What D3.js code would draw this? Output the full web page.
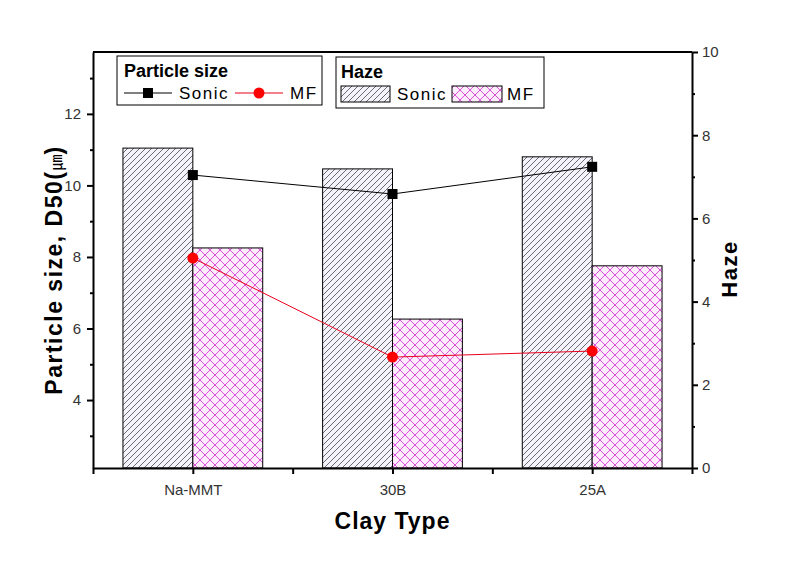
<!DOCTYPE html>
<html>
<head>
<meta charset="utf-8">
<script src="https://cdn.jsdelivr.net/npm/d3@7"></script>
<style>
  body { margin: 0; background: #fff; }
  text { font-family: Arial, "Liberation Sans", sans-serif; }
</style>
</head>
<body>
<div id="chart"></div>
<script>
const categories = ["Na-MMT", "30B", "25A"];
const sizeSonic = [10.29, 9.76, 10.52];
const sizeMF = [7.97, 5.2, 5.37];
const hazeSonic = [7.69, 7.19, 7.48];
const hazeMF = [5.29, 3.58, 4.86];
const leftTicks = [4, 6, 8, 10, 12];
const rightTicks = [0, 2, 4, 6, 8, 10];

const config = {
  width: 794,
  height: 572,
  margin: {top: 52, left: 93, right: 102, bottom: 104},
  barWidth: 0.35,
  sizeDomain: [2.1, 13.73],
  hazeDomain: [0, 10]
};

const W = config.width, H = config.height, m = config.margin;
const x0 = m.left, x1 = W - m.right, y0 = H - m.bottom, y1 = m.top;

const xScale = d3.scaleLinear([0.5, 3.5], [x0, x1]);
const yLeft = d3.scaleLinear(config.sizeDomain, [y0, y1]);
const yRight = d3.scaleLinear(config.hazeDomain, [y0, y1]);

const svg = d3.select("#chart").append("svg")
  .attr("width", W).attr("height", H)
  .attr("viewBox", [0, 0, W, H]);

// patterns
const defs = svg.append("defs");
const hatch = defs.append("pattern")
  .attr("id", "hatch").attr("patternUnits", "userSpaceOnUse")
  .attr("width", 6).attr("height", 6);
hatch.append("rect").attr("width", 6).attr("height", 6).attr("fill", "#f4f2fb");
hatch.append("path").attr("d", "M0,6 L6,0 M-1,1 L1,-1 M5,7 L7,5")
  .attr("stroke", "#222").attr("stroke-width", 0.65);

const cross = defs.append("pattern")
  .attr("id", "cross").attr("patternUnits", "userSpaceOnUse")
  .attr("width", 10).attr("height", 10);
cross.append("rect").attr("width", 10).attr("height", 10).attr("fill", "#fcecfc");
cross.append("path").attr("d", "M0,0 L10,10 M10,0 L0,10")
  .attr("stroke", "#d42ad4").attr("stroke-width", 0.8);

// bars
const I = d3.range(categories.length);
const bw = xScale(1 + config.barWidth) - xScale(1);

svg.append("g").selectAll("rect")
  .data(I).join("rect")
  .attr("x", i => xScale(i + 1) - bw)
  .attr("y", i => yRight(hazeSonic[i]))
  .attr("width", bw)
  .attr("height", i => y0 - yRight(hazeSonic[i]))
  .attr("fill", "url(#hatch)")
  .attr("stroke", "#000").attr("stroke-width", 1);

svg.append("g").selectAll("rect")
  .data(I).join("rect")
  .attr("x", i => xScale(i + 1))
  .attr("y", i => yRight(hazeMF[i]))
  .attr("width", bw)
  .attr("height", i => y0 - yRight(hazeMF[i]))
  .attr("fill", "url(#cross)")
  .attr("stroke", "#000").attr("stroke-width", 1);

// lines
const line = d3.line().x((d, i) => xScale(i + 1)).y(d => yLeft(d));
svg.append("path").datum(sizeSonic).attr("d", line)
  .attr("fill", "none").attr("stroke", "#000").attr("stroke-width", 1);
svg.append("path").datum(sizeMF).attr("d", line)
  .attr("fill", "none").attr("stroke", "#e8001c").attr("stroke-width", 1);

svg.append("g").selectAll("rect")
  .data(I).join("rect")
  .attr("x", i => xScale(i + 1) - 5)
  .attr("y", i => yLeft(sizeSonic[i]) - 5)
  .attr("width", 10).attr("height", 10)
  .attr("fill", "#000");
svg.append("g").selectAll("circle")
  .data(I).join("circle")
  .attr("cx", i => xScale(i + 1))
  .attr("cy", i => yLeft(sizeMF[i]))
  .attr("r", 5.5)
  .attr("fill", "#f00");

// axes
const axisStyle = g => {
  g.select(".domain").attr("stroke-width", 2);
  g.selectAll(".tick line").attr("stroke-width", 2);
  g.selectAll(".tick text").attr("font-size", 15).attr("fill", "#333")
    .attr("font-family", "Arial, 'Liberation Sans', sans-serif");
};

svg.append("g")
  .attr("transform", `translate(${x0},0)`)
  .call(d3.axisLeft(yLeft).tickValues(leftTicks).tickSize(6).tickSizeOuter(0).tickPadding(6))
  .call(axisStyle);
svg.append("g")
  .attr("transform", `translate(${x0},0)`)
  .call(d3.axisLeft(yLeft).tickValues([3, 5, 7, 9, 11, 13]).tickSize(3).tickSizeOuter(0).tickFormat(""))
  .call(g => g.select(".domain").remove())
  .call(g => g.selectAll(".tick line").attr("stroke-width", 2));

svg.append("g")
  .attr("transform", `translate(${x1},0)`)
  .call(d3.axisRight(yRight).tickValues(rightTicks).tickSize(6).tickSizeOuter(0).tickPadding(4))
  .call(axisStyle);
svg.append("g")
  .attr("transform", `translate(${x1},0)`)
  .call(d3.axisRight(yRight).tickValues([1, 3, 5, 7, 9]).tickSize(3).tickSizeOuter(0).tickFormat(""))
  .call(g => g.select(".domain").remove())
  .call(g => g.selectAll(".tick line").attr("stroke-width", 2));

svg.append("g")
  .attr("transform", `translate(0,${y0})`)
  .call(d3.axisBottom(xScale).tickValues([1, 2, 3]).tickSize(6).tickSizeOuter(0).tickPadding(10)
    .tickFormat(d => categories[d - 1]))
  .call(axisStyle);
svg.append("g")
  .attr("transform", `translate(0,${y0})`)
  .call(d3.axisBottom(xScale).tickValues([0.5, 1.5, 2.5, 3.5]).tickSize(6).tickFormat(""))
  .call(g => g.select(".domain").remove())
  .call(g => g.selectAll(".tick line").attr("stroke-width", 2));

// top border
svg.append("line")
  .attr("x1", x0).attr("x2", x1).attr("y1", y1).attr("y2", y1)
  .attr("stroke", "#000").attr("stroke-width", 2);

// axis titles
svg.append("text")
  .attr("transform", `translate(62,270) rotate(-90)`)
  .attr("text-anchor", "middle")
  .attr("font-size", 23).attr("font-weight", "bold").attr("letter-spacing", 1.5)
  .text("Particle size, D50(")
  .append("tspan").attr("font-size", 16).attr("font-weight", "normal").attr("letter-spacing", 0)
  .attr("font-family", "'Noto Sans CJK KR', sans-serif").text("㎛")
  .select(function() { return this.parentNode; })
  .append("tspan").text(")");

svg.append("text")
  .attr("transform", `translate(737,269) rotate(-90)`)
  .attr("text-anchor", "middle")
  .attr("font-size", 22).attr("font-weight", "bold").attr("letter-spacing", 1.5)
  .text("Haze");

svg.append("text")
  .attr("x", (x0 + x1) / 2).attr("y", 529)
  .attr("text-anchor", "middle")
  .attr("font-size", 23).attr("font-weight", "bold").attr("letter-spacing", 1)
  .text("Clay Type");

// legends
const lg1 = svg.append("g");
lg1.append("rect").attr("x", 117).attr("y", 56).attr("width", 205).attr("height", 49)
  .attr("fill", "#fff").attr("stroke", "#000").attr("stroke-width", 1);
lg1.append("text").attr("x", 124).attr("y", 77).attr("font-size", 18).attr("font-weight", "bold")
  .text("Particle size");
lg1.append("line").attr("x1", 124).attr("x2", 172).attr("y1", 93).attr("y2", 93).attr("stroke", "#000");
lg1.append("rect").attr("x", 143).attr("y", 88).attr("width", 10).attr("height", 10).attr("fill", "#000");
lg1.append("text").attr("x", 179).attr("y", 99).attr("font-size", 17).attr("letter-spacing", 1.5).text("Sonic");
lg1.append("line").attr("x1", 235).attr("x2", 283).attr("y1", 93).attr("y2", 93).attr("stroke", "#e8001c");
lg1.append("circle").attr("cx", 259).attr("cy", 93).attr("r", 5.5).attr("fill", "#f00");
lg1.append("text").attr("x", 290).attr("y", 99).attr("font-size", 17).attr("letter-spacing", 1.5).text("MF");

const lg2 = svg.append("g");
lg2.append("rect").attr("x", 336).attr("y", 57).attr("width", 208).attr("height", 51)
  .attr("fill", "#fff").attr("stroke", "#000").attr("stroke-width", 1);
lg2.append("text").attr("x", 341).attr("y", 78).attr("font-size", 18).attr("font-weight", "bold")
  .text("Haze");
lg2.append("rect").attr("x", 341).attr("y", 86).attr("width", 49).attr("height", 16)
  .attr("fill", "url(#hatch)").attr("stroke", "#000");
lg2.append("text").attr("x", 397).attr("y", 100).attr("font-size", 17).attr("letter-spacing", 1.5).text("Sonic");
lg2.append("rect").attr("x", 452).attr("y", 86).attr("width", 50).attr("height", 16)
  .attr("fill", "url(#cross)").attr("stroke", "#000");
lg2.append("text").attr("x", 507).attr("y", 100).attr("font-size", 17).attr("letter-spacing", 1.5).text("MF");
</script>
</body>
</html>
